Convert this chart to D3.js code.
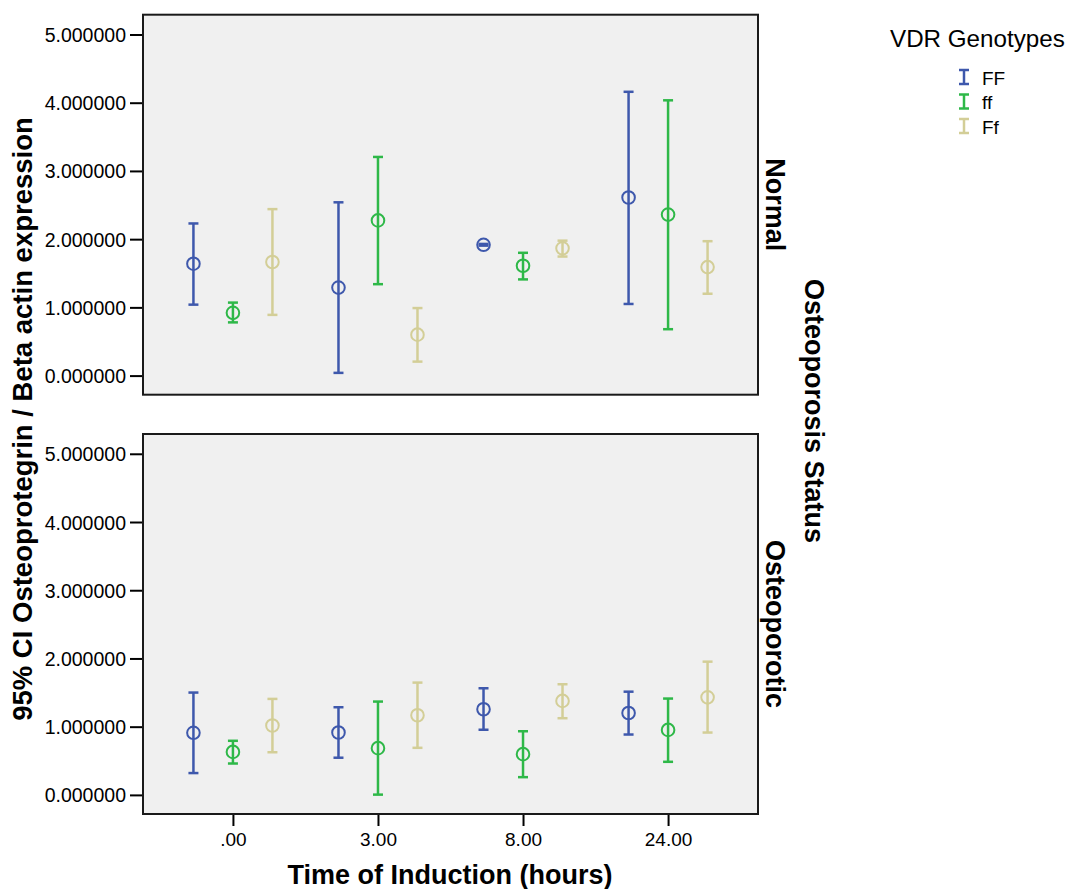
<html>
  <head>
    <title>OPG expression error bars</title>
    <style type="text/css">
      body{
        margin: 0;
        background: white;
        font-family: "Liberation Sans", Arial, sans-serif;
      }
      .tick text{
        font-family: "Liberation Sans", Arial, sans-serif;
        font-size: 19px;
        fill: #000;
      }
      .tick line{
        stroke: #000;
        stroke-width: 2;
      }
      .boldtitle{
        font-weight: bold;
        font-size: 27px;
      }
    </style>
  </head>
  <body>
    <script src="https://d3js.org/d3.v7.min.js"></script>
    <div id="graph_item"></div>
    <script>

// data
var times = [".00", "3.00", "8.00", "24.00"];
var genotypes = ["FF", "ff", "Ff"];
var statuses = ["Normal", "Osteoporotic"];
var yTicks = [0, 1, 2, 3, 4, 5];

// Normal
var normal_FF_mean = [1.64, 1.29, 1.917, 2.61];
var normal_FF_lo   = [1.04, 0.04, 1.905, 1.05];
var normal_FF_hi   = [2.23, 2.54, 1.93, 4.16];
var normal_ff_mean = [0.92, 2.275, 1.61, 2.36];
var normal_ff_lo   = [0.78, 1.34, 1.41, 0.68];
var normal_ff_hi   = [1.07, 3.205, 1.80, 4.035];
var normal_Ff_mean = [1.665, 0.60, 1.866, 1.59];
var normal_Ff_lo   = [0.89, 0.205, 1.745, 1.20];
var normal_Ff_hi   = [2.44, 0.99, 1.978, 1.97];

// Osteoporotic
var osteo_FF_mean = [0.91, 0.915, 1.255, 1.20];
var osteo_FF_lo   = [0.32, 0.545, 0.955, 0.885];
var osteo_FF_hi   = [1.50, 1.285, 1.563, 1.513];
var osteo_ff_mean = [0.63, 0.685, 0.597, 0.953];
var osteo_ff_lo   = [0.46, 0.004, 0.26, 0.485];
var osteo_ff_hi   = [0.793, 1.368, 0.933, 1.412];
var osteo_Ff_mean = [1.017, 1.167, 1.378, 1.43];
var osteo_Ff_lo   = [0.625, 0.69, 1.124, 0.914];
var osteo_Ff_hi   = [1.407, 1.646, 1.622, 1.953];

var colors = {"FF": "#3E58AC", "ff": "#2EB848", "Ff": "#D3CE97"};

// build rows for drawing
var series = {
  "Normal": {
    "FF": [normal_FF_mean, normal_FF_lo, normal_FF_hi],
    "ff": [normal_ff_mean, normal_ff_lo, normal_ff_hi],
    "Ff": [normal_Ff_mean, normal_Ff_lo, normal_Ff_hi]
  },
  "Osteoporotic": {
    "FF": [osteo_FF_mean, osteo_FF_lo, osteo_FF_hi],
    "ff": [osteo_ff_mean, osteo_ff_lo, osteo_ff_hi],
    "Ff": [osteo_Ff_mean, osteo_Ff_lo, osteo_Ff_hi]
  }
};

var W = 1067, H = 889;
var left = 143, right = 758;
var panelTop = [14.7, 434], panelH = 380;

var svg = d3.select("#graph_item")
  .append("svg")
    .attr("width", W)
    .attr("height", H)
    .style("font-family", "'Liberation Sans', Arial, sans-serif");

var x = d3.scalePoint()
  .domain(times)
  .range([left, right])
  .padding(0.62);

var offset = d3.scalePoint()
  .domain(genotypes)
  .range([-39.5, 39.5]);

statuses.forEach(function(status, si){
  var top = panelTop[si];
  var y = d3.scaleLinear()
    .domain([-0.28, 5.29])
    .range([top + panelH, top]);

  svg.append("rect")
    .attr("x", left)
    .attr("y", top)
    .attr("width", right - left)
    .attr("height", panelH)
    .attr("fill", "#F0F0F0")
    .attr("stroke", "#1a1a1a")
    .attr("stroke-width", 2);

  svg.append("g")
    .attr("transform", "translate(" + (left - 1) + ",0)")
    .call(d3.axisLeft(y).tickValues(yTicks).tickFormat(d3.format(".6f")).tickSize(12).tickPadding(4))
    .call(g => g.select(".domain").remove())
    .call(g => g.selectAll(".tick text").attr("dy", "0.36em").style("font-size", "19.5px"));

  // strip label
  svg.append("text")
    .attr("class", "boldtitle")
    .attr("text-anchor", "middle")
    .attr("transform", "translate(766," + (top + panelH / 2) + ") rotate(90)")
    .text(status);

  genotypes.forEach(function(gt){
    var s = series[status][gt];
    var rows = times.map(function(t, i){ return {t: t, mean: s[0][i], lo: s[1][i], hi: s[2][i]}; });
    var g = svg.append("g").attr("stroke", colors[gt]).attr("fill", "none");
    var cx = function(d){ return x(d.t) + offset(gt); };

    g.selectAll(".whisker").data(rows).join("line")
      .attr("x1", cx).attr("x2", cx)
      .attr("y1", d => y(d.lo)).attr("y2", d => y(d.hi))
      .attr("stroke-width", 2.5);
    g.selectAll(".caplo").data(rows).join("line")
      .attr("x1", d => cx(d) - 5).attr("x2", d => cx(d) + 5)
      .attr("y1", d => y(d.lo)).attr("y2", d => y(d.lo))
      .attr("stroke-width", 2.5);
    g.selectAll(".caphi").data(rows).join("line")
      .attr("x1", d => cx(d) - 5).attr("x2", d => cx(d) + 5)
      .attr("y1", d => y(d.hi)).attr("y2", d => y(d.hi))
      .attr("stroke-width", 2.5);
    g.selectAll("circle").data(rows).join("circle")
      .attr("cx", cx)
      .attr("cy", d => y(d.mean))
      .attr("r", 6.3)
      .attr("stroke-width", 2);
  });
});

// x axis under the bottom panel
svg.append("g")
  .attr("transform", "translate(0," + (panelTop[1] + panelH + 1) + ")")
  .call(d3.axisBottom(x).tickSize(11).tickPadding(7))
  .call(g => g.select(".domain").remove());

// titles
svg.append("text")
  .attr("class", "boldtitle")
  .attr("text-anchor", "middle")
  .attr("x", 450)
  .attr("y", 884)
  .text("Time of Induction (hours)");

svg.append("text")
  .attr("class", "boldtitle")
  .attr("text-anchor", "middle")
  .style("font-size", "27.5px")
  .attr("transform", "translate(32,419) rotate(-90)")
  .text("95% CI Osteoprotegrin / Beta actin expression");

svg.append("text")
  .attr("class", "boldtitle")
  .attr("text-anchor", "middle")
  .attr("transform", "translate(805,411) rotate(90)")
  .text("Osteoporosis Status");

// legend
svg.append("text")
  .attr("x", 890)
  .attr("y", 47)
  .style("font-size", "24.2px")
  .text("VDR Genotypes");

var legend = svg.selectAll(".legend").data(genotypes).join("g")
  .attr("transform", (d, i) => "translate(964," + (77 + i * 24.5) + ")");
legend.append("line")
  .attr("y1", -7).attr("y2", 7)
  .attr("stroke", d => colors[d]).attr("stroke-width", 2.5);
legend.append("line")
  .attr("x1", -5).attr("x2", 5).attr("y1", -7).attr("y2", -7)
  .attr("stroke", d => colors[d]).attr("stroke-width", 2.5);
legend.append("line")
  .attr("x1", -5).attr("x2", 5).attr("y1", 7).attr("y2", 7)
  .attr("stroke", d => colors[d]).attr("stroke-width", 2.5);
legend.append("text")
  .attr("x", 18)
  .attr("y", 7.5)
  .style("font-size", "19px")
  .text(d => d);

</script>
  </body>
</html>
